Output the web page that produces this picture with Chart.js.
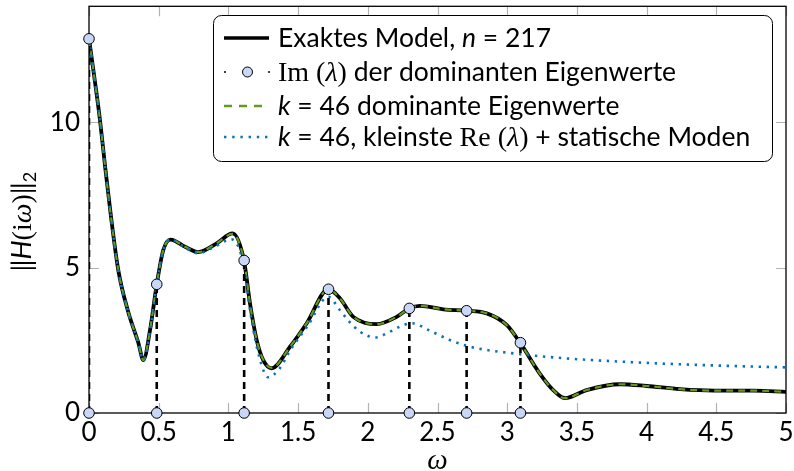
<!DOCTYPE html>
<html>
<head>
<meta charset="utf-8">
<script src="https://cdn.jsdelivr.net/npm/chart.js@4.4.0/dist/chart.umd.min.js"></script>
<style>
  html, body { margin: 0; padding: 0; background: #fff; }
</style>
</head>
<body>
<canvas id="freqChart" width="794" height="471"></canvas>
<script>
// frequency response of the full model
var omegaExact = [0, 0.04, 0.079, 0.115, 0.158, 0.21, 0.28, 0.354, 0.39, 0.438, 0.486, 0.533, 0.585, 0.689, 0.784, 0.916, 1.03, 1.112, 1.155, 1.203, 1.25, 1.31, 1.442, 1.562, 1.717, 1.80, 1.896, 2.064, 2.207, 2.298, 2.374, 2.542, 2.709, 2.853, 2.996, 3.092, 3.235, 3.33, 3.415, 3.57, 3.81, 4.0, 4.24, 4.48, 4.77, 5.0];
var normExact = [12.88, 11.5, 10.08, 8.5, 6.75, 4.92, 3.5, 2.42, 1.82, 2.86, 4.43, 5.61, 5.97, 5.72, 5.54, 5.84, 6.18, 5.24, 3.77, 2.51, 1.82, 1.54, 2.28, 3.09, 4.26, 3.95, 3.31, 3.06, 3.31, 3.60, 3.69, 3.57, 3.52, 3.43, 3.03, 2.42, 1.35, 0.79, 0.51, 0.79, 0.99, 0.93, 0.82, 0.77, 0.77, 0.73];

// reduced model, 46 dominant eigenvalues
var omegaDominant = [0, 0.04, 0.079, 0.115, 0.158, 0.21, 0.28, 0.354, 0.39, 0.438, 0.486, 0.533, 0.585, 0.689, 0.784, 0.916, 1.03, 1.112, 1.155, 1.203, 1.25, 1.31, 1.442, 1.562, 1.717, 1.80, 1.896, 2.064, 2.207, 2.298, 2.374, 2.542, 2.709, 2.853, 2.996, 3.092, 3.235, 3.33, 3.415, 3.57, 3.81, 4.0, 4.24, 4.48, 4.77, 5.0];
var normDominant = [12.88, 11.5, 10.08, 8.5, 6.75, 4.92, 3.5, 2.42, 1.82, 2.86, 4.43, 5.61, 5.97, 5.72, 5.54, 5.84, 6.17, 5.24, 3.76, 2.50, 1.83, 1.55, 2.28, 3.09, 4.25, 3.95, 3.31, 3.06, 3.31, 3.60, 3.69, 3.57, 3.52, 3.43, 3.03, 2.42, 1.35, 0.79, 0.51, 0.79, 0.99, 0.93, 0.82, 0.77, 0.77, 0.73];

// reduced model, smallest Re(lambda) plus static modes
var omegaStatic = [0, 0.04, 0.079, 0.115, 0.158, 0.21, 0.28, 0.354, 0.39, 0.438, 0.486, 0.533, 0.585, 0.689, 0.784, 0.9, 1.02, 1.112, 1.155, 1.22, 1.286, 1.37, 1.442, 1.562, 1.717, 1.80, 1.872, 1.944, 2.052, 2.16, 2.23, 2.315, 2.446, 2.59, 2.709, 2.853, 2.996, 3.14, 3.45, 3.81, 4.17, 4.53, 5.0];
var normStatic = [12.88, 11.5, 10.08, 8.5, 6.75, 4.92, 3.5, 2.42, 1.82, 2.86, 4.43, 5.61, 5.97, 5.70, 5.50, 5.72, 5.98, 5.05, 3.54, 1.95, 1.23, 1.55, 2.15, 2.95, 4.0, 3.54, 3.12, 2.80, 2.60, 2.80, 2.97, 3.09, 2.83, 2.51, 2.31, 2.17, 2.08, 2.0, 1.87, 1.77, 1.69, 1.63, 1.57];

// Im(lambda) of the dominant eigenvalues and the norm there
var eigOmega = [0, 0.486, 1.113, 1.718, 2.298, 2.709, 3.095];
var eigNorm = [12.88, 4.43, 5.25, 4.26, 3.60, 3.52, 2.42];

var xTicks = [0, 0.5, 1, 1.5, 2, 2.5, 3, 3.5, 4, 4.5, 5];
var xTickLabels = ['0', '0.5', '1', '1.5', '2', '2.5', '3', '3.5', '4', '4.5', '5'];
var yTicks = [0, 5, 10];
var yTickLabels = ['0', '5', '10'];

var SANS = '26.5px Lato';
var SANS_IT = 'italic 26.5px Lato';
var SERIF = '28px "Liberation Serif"';
var SERIF_IT = 'italic 28px "Liberation Serif"';

var GREEN = '#66991f';
var BLUE = '#0b72b8';
var MARK = '#c8d7f7';

// legend rows: pieces of text with their font
var legendRows = [
  [['Exaktes Model, ', SANS], ['n', SANS_IT], [' = 217', SANS]],
  [['Im', SERIF], [' (', SERIF], ['\u03bb', SERIF_IT], [')', SERIF], [' der dominanten Eigenwerte', SANS]],
  [['k', SANS_IT], [' = 46 dominante Eigenwerte', SANS]],
  [['k', SANS_IT], [' = 46, kleinste ', SANS], ['Re', SERIF], [' (', SERIF], ['\u03bb', SERIF_IT], [')', SERIF], [' + statische Moden', SANS]]
];
var yTitle = [['\u2016', '27px Lato'], ['H', 'italic 27px Lato'], ['(i', '28px "Liberation Serif"'], ['\u03c9', 'italic 28px "Liberation Serif"'], [')', '28px "Liberation Serif"'], ['\u2016', '27px Lato']];

function toPoints(xs, ys) {
  return xs.map(function(v, i) { return { x: v, y: ys[i] }; });
}

// dashed drop lines from each eigenvalue down to the axis
function stemPoints() {
  var pts = [];
  eigOmega.forEach(function(v, i) {
    pts.push({ x: v, y: 0 }, { x: v, y: eigNorm[i] }, { x: v, y: null });
  });
  return pts;
}

function markPoints() {
  var pts = toPoints(eigOmega, eigNorm);
  eigOmega.forEach(function(v) { pts.push({ x: v, y: 0 }); });
  return pts;
}

function drawRich(ctx, pieces, x, y) {
  pieces.forEach(function(p) {
    ctx.font = p[1];
    ctx.fillText(p[0], x, y);
    x += ctx.measureText(p[0]).width;
  });
  return x;
}

// frame and inward tick marks on all four sides
var framePlugin = {
  id: 'frame',
  beforeDatasetsDraw: function(chart) {
    var ctx = chart.ctx, a = chart.chartArea;
    var sx = chart.scales.x, sy = chart.scales.y;
    ctx.save();
    ctx.strokeStyle = '#b3b3b3';
    ctx.lineWidth = 1.2;
    ctx.beginPath();
    xTicks.forEach(function(v) {
      var px = Math.round(sx.getPixelForValue(v)) + 0.5;
      ctx.moveTo(px, a.bottom); ctx.lineTo(px, a.bottom - 10);
      ctx.moveTo(px, a.top); ctx.lineTo(px, a.top + 10);
    });
    yTicks.forEach(function(v) {
      var py = Math.round(sy.getPixelForValue(v)) + 0.5;
      ctx.moveTo(a.left, py); ctx.lineTo(a.left + 10, py);
      ctx.moveTo(a.right, py); ctx.lineTo(a.right - 10, py);
    });
    ctx.stroke();
    ctx.strokeStyle = '#000';
    ctx.lineWidth = 1.3;
    ctx.strokeRect(a.left, a.top, a.right - a.left, a.bottom - a.top);
    ctx.restore();
  },
  afterDraw: function(chart) {
    var ctx = chart.ctx, a = chart.chartArea;
    ctx.save();
    ctx.fillStyle = '#000';
    ctx.textBaseline = 'alphabetic';

    // axis titles
    ctx.font = 'italic 29px "Liberation Serif"';
    ctx.textAlign = 'center';
    ctx.fillText('\u03c9', (a.left + a.right) / 2, 469);
    ctx.textAlign = 'left';
    var w = 0;
    yTitle.forEach(function(p) { ctx.font = p[1]; w += ctx.measureText(p[0]).width; });
    ctx.font = '18px Lato';
    w += ctx.measureText('2').width;
    ctx.translate(31, (a.top + a.bottom) / 2 + 12);
    ctx.rotate(-Math.PI / 2);
    var end = drawRich(ctx, yTitle, -w / 2, 0);
    ctx.font = '18px Lato';
    ctx.fillText('2', end, 5);
    ctx.setTransform(1, 0, 0, 1, 0, 0);

    // legend box
    var bx = 213.5, by = 15.5, bw = 559, bh = 146, r = 8;
    ctx.beginPath();
    ctx.moveTo(bx + r, by);
    ctx.arcTo(bx + bw, by, bx + bw, by + bh, r);
    ctx.arcTo(bx + bw, by + bh, bx, by + bh, r);
    ctx.arcTo(bx, by + bh, bx, by, r);
    ctx.arcTo(bx, by, bx + bw, by, r);
    ctx.closePath();
    ctx.fillStyle = '#fff';
    ctx.fill();
    ctx.strokeStyle = '#000';
    ctx.lineWidth = 1;
    ctx.stroke();

    var rows = [38, 72, 106, 137];
    var x0 = 224, x1 = 269;
    ctx.lineCap = 'butt';
    // exact
    ctx.beginPath(); ctx.strokeStyle = '#000'; ctx.lineWidth = 3.6;
    ctx.moveTo(x0, rows[0]); ctx.lineTo(x1, rows[0]); ctx.stroke();
    // eigenvalue marks
    ctx.fillStyle = '#000';
    ctx.beginPath(); ctx.arc(x0 + 1, rows[1], 1, 0, 2 * Math.PI); ctx.fill();
    ctx.beginPath(); ctx.arc(x1, rows[1], 1, 0, 2 * Math.PI); ctx.fill();
    ctx.beginPath(); ctx.arc((x0 + x1) / 2 + 1, rows[1], 5, 0, 2 * Math.PI);
    ctx.fillStyle = MARK; ctx.fill(); ctx.lineWidth = 1; ctx.strokeStyle = '#000'; ctx.stroke();
    // dominant
    ctx.beginPath(); ctx.strokeStyle = GREEN; ctx.lineWidth = 2.4; ctx.setLineDash([8, 7]);
    ctx.moveTo(x0, rows[2]); ctx.lineTo(x1, rows[2]); ctx.stroke();
    // static
    ctx.beginPath(); ctx.strokeStyle = BLUE; ctx.lineWidth = 2.4; ctx.setLineDash([2.4, 5.8]);
    ctx.moveTo(x0, rows[3]); ctx.lineTo(x1 + 2, rows[3]); ctx.stroke();
    ctx.setLineDash([]);

    ctx.fillStyle = '#000';
    legendRows.forEach(function(row, i) {
      drawRich(ctx, row, 278, rows[i] + 9);
    });
    ctx.restore();
  }
};

var ctx = document.getElementById('freqChart').getContext('2d');
var chart = new Chart(ctx, {
  type: 'line',
  data: {
    datasets: [{
      label: 'Im(\u03bb) der dominanten Eigenwerte',
      data: markPoints(),
      showLine: false,
      pointRadius: 5.3,
      pointBackgroundColor: MARK,
      pointBorderColor: '#000',
      pointBorderWidth: 1,
      clip: false,
      order: 0
    }, {
      label: 'stems',
      data: stemPoints(),
      borderColor: '#000',
      borderWidth: 2.6,
      borderDash: [7, 5],
      pointRadius: 0,
      spanGaps: false,
      tension: 0,
      order: 1
    }, {
      label: 'k = 46, kleinste Re(\u03bb) + statische Moden',
      data: toPoints(omegaStatic, normStatic),
      borderColor: BLUE,
      borderWidth: 2.6,
      borderDash: [2.4, 5.6],
      borderCapStyle: 'butt',
      pointRadius: 0,
      cubicInterpolationMode: 'monotone',
      order: 2
    }, {
      label: 'k = 46 dominante Eigenwerte',
      data: toPoints(omegaDominant, normDominant),
      borderColor: GREEN,
      borderWidth: 2.2,
      borderDash: [7, 5],
      pointRadius: 0,
      cubicInterpolationMode: 'monotone',
      order: 3
    }, {
      label: 'Exaktes Model, n = 217',
      data: toPoints(omegaExact, normExact),
      borderColor: '#000',
      borderWidth: 3.8,
      pointRadius: 0,
      cubicInterpolationMode: 'monotone',
      order: 4
    }]
  },
  options: {
    responsive: false,
    animation: false,
    devicePixelRatio: 1,
    layout: { padding: { top: 6, right: 8, left: 0, bottom: 0 } },
    plugins: { legend: { display: false }, tooltip: { enabled: false } },
    scales: {
      x: {
        type: 'linear',
        min: 0, max: 5,
        grid: { display: false, drawTicks: false },
        border: { display: false },
        afterBuildTicks: function(scale) {
          scale.ticks = xTicks.map(function(v) { return { value: v }; });
        },
        afterFit: function(scale) {
          scale.height = 58;
          scale.paddingLeft = 0;
          scale.paddingRight = 0;
        },
        ticks: {
          autoSkip: false, maxRotation: 0, padding: 4,
          color: '#000', font: { family: 'Lato', size: 26 },
          callback: function(v, i) { return xTickLabels[i]; }
        }
      },
      y: {
        type: 'linear',
        min: 0, max: 14,
        grid: { display: false, drawTicks: false },
        border: { display: false },
        afterBuildTicks: function(scale) {
          scale.ticks = yTicks.map(function(v) { return { value: v }; });
        },
        afterFit: function(scale) {
          scale.width = 89;
          scale.paddingTop = 0;
          scale.paddingBottom = 0;
        },
        ticks: {
          padding: 9,
          color: '#000', font: { family: 'Lato', size: 26 },
          callback: function(v, i) { return yTickLabels[i]; }
        }
      }
    }
  },
  plugins: [framePlugin]
});
</script>
</body>
</html>
